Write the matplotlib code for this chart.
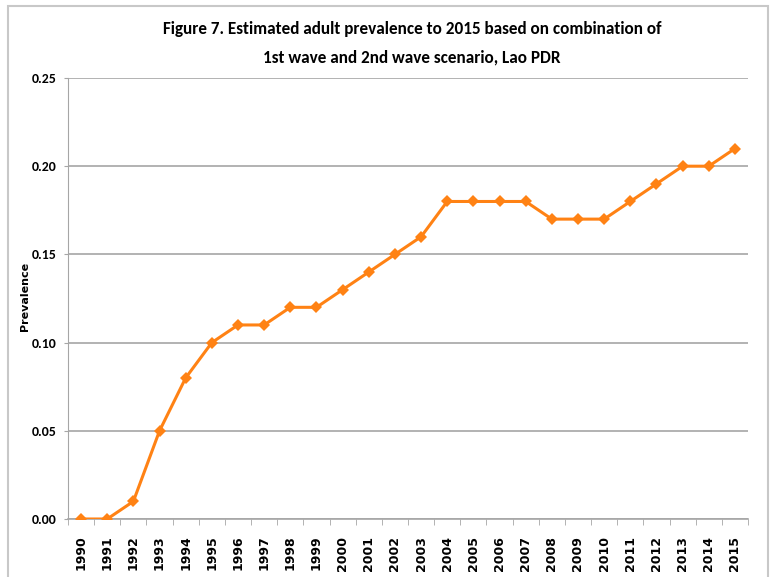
import matplotlib
matplotlib.use("Agg")
import matplotlib.pyplot as plt
from matplotlib.patches import Rectangle

# data
years = list(range(1990, 2016))
prevalence = [0.00, 0.00, 0.01, 0.05, 0.08, 0.10, 0.11, 0.11, 0.12, 0.12,
              0.13, 0.14, 0.15, 0.16, 0.18, 0.18, 0.18, 0.18, 0.17, 0.17,
              0.17, 0.18, 0.19, 0.20, 0.20, 0.21]
yticks = [0.00, 0.05, 0.10, 0.15, 0.20, 0.25]

title = ("Figure 7. Estimated adult prevalence to 2015 based on combination of\n"
         "1st wave and 2nd wave scenario, Lao PDR")

calibri = ['Carlito', 'Liberation Sans', 'DejaVu Sans']
verdana = ['DejaVu Sans']
plt.rcParams['font.family'] = calibri

fig = plt.figure(figsize=(7.76, 5.77), dpi=100)
# light grey frame round the picture (bottom edge is cut off in the original)
fig.add_artist(Rectangle((8 / 776, -0.05), (768 - 8) / 776, 1 - 6 / 577 + 0.05,
                         transform=fig.transFigure, fill=False,
                         edgecolor='#c8c8c8', linewidth=1.5))

ax = fig.add_axes([68 / 776, 1 - 519 / 577, (748 - 68) / 776, (519 - 78) / 577])

x = list(range(len(years)))
ax.plot(x, prevalence, color='#ff8214', linewidth=2.2, marker='D',
        markersize=6.5, markeredgewidth=0, zorder=3)

ax.set_xlim(-0.5, len(years) - 0.5)
ax.set_ylim(0, 0.25)
ax.set_yticks(yticks)
ax.set_yticklabels(['%.2f' % v for v in yticks], fontsize=10, fontweight='bold')
ax.yaxis.grid(True, color='#a6a6a6', linewidth=1.2)
ax.set_axisbelow(True)

# category labels centred, tick marks between categories
ax.set_xticks(x)
ax.set_xticklabels([str(y) for y in years], rotation=90, fontsize=9,
                   fontweight='bold', family=verdana)
ax.set_xticks([i - 0.5 for i in range(len(years) + 1)], minor=True)
ax.tick_params(axis='x', which='major', length=0, pad=12)
ax.tick_params(axis='x', which='minor', length=4, color='#a6a6a6')
ax.tick_params(axis='y', length=3, color='#a6a6a6', pad=5)

for side in ['top', 'right']:
    ax.spines[side].set_visible(False)
ax.spines['left'].set_color('#a6a6a6')
ax.spines['bottom'].set_color('#a6a6a6')
ax.spines['bottom'].set_linewidth(1.2)

fig.text(412 / 776, 1 - 43 / 577, title, ha='center', va='center',
         fontsize=12.3, fontweight='bold', linespacing=1.95)
fig.text(25 / 776, 1 - 296 / 577, 'Prevalence', rotation=90, ha='center',
         va='center', fontsize=8, fontweight='bold', family=verdana)

fig.savefig('out.png', dpi=100)
